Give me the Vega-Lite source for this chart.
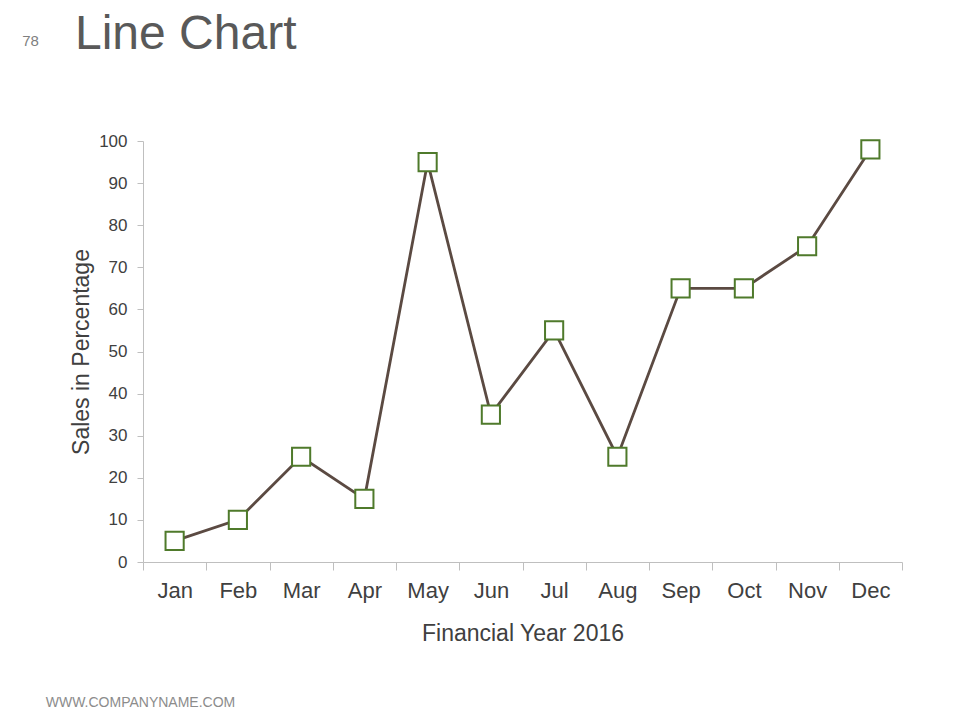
{
  "$schema": "https://vega.github.io/schema/vega-lite/v6.json",
  "width": 759,
  "height": 421,
  "autosize": {"type": "none"},
  "padding": {"left": 143, "top": 141, "right": 58, "bottom": 158},
  "background": "white",
  "title": {
    "text": "Line Chart",
    "anchor": "start",
    "frame": "group",
    "dx": -68,
    "dy": 30,
    "fontSize": 48,
    "fontWeight": "normal",
    "font": "Liberation Sans",
    "color": "#595959"
  },
  "data": {
    "values": [
      {"month": "Jan", "sales": 5},
      {"month": "Feb", "sales": 10},
      {"month": "Mar", "sales": 25},
      {"month": "Apr", "sales": 15},
      {"month": "May", "sales": 95},
      {"month": "Jun", "sales": 35},
      {"month": "Jul", "sales": 55},
      {"month": "Aug", "sales": 25},
      {"month": "Sep", "sales": 65},
      {"month": "Oct", "sales": 65},
      {"month": "Nov", "sales": 75},
      {"month": "Dec", "sales": 98}
    ]
  },
  "layer": [
    {
      "mark": {"type": "line", "color": "#5b4a42", "strokeWidth": 2.8},
      "encoding": {
        "x": {
          "field": "month",
          "type": "ordinal",
          "sort": ["Jan","Feb","Mar","Apr","May","Jun","Jul","Aug","Sep","Oct","Nov","Dec"],
          "bandPosition": 0.5,
          "scale": {"type": "band", "paddingInner": 0, "paddingOuter": 0},
          "axis": {
            "orient": "bottom",
            "title": "Financial Year 2016",
            "titleFontSize": 23,
            "titleFontWeight": "normal",
            "titleColor": "#404040",
            "titlePadding": 21,
            "labelFontSize": 22,
            "labelColor": "#404040",
            "labelPadding": 10,
            "labelAngle": 0,
            "tickBand": "extent",
            "tickSize": 8,
            "tickColor": "#bfbfbf",
            "domainColor": "#bfbfbf",
            "grid": false
          }
        },
        "y": {
          "field": "sales",
          "type": "quantitative",
          "scale": {"domain": [0, 100], "nice": false},
          "axis": {
            "orient": "left",
            "title": "Sales in Percentage",
            "titleFontSize": 23,
            "titleFontWeight": "normal",
            "titleColor": "#404040",
            "titlePadding": 5,
            "values": [0,10,20,30,40,50,60,70,80,90,100],
            "labelFontSize": 17,
            "labelColor": "#404040",
            "labelPadding": 10,
            "tickSize": 6,
            "tickColor": "#bfbfbf",
            "domainColor": "#bfbfbf",
            "grid": false
          }
        }
      }
    },
    {
      "mark": {"type": "point", "shape": "square", "size": 330, "filled": true, "fill": "white", "stroke": "#4f7a2b", "strokeWidth": 2, "opacity": 1},
      "encoding": {
        "x": {
          "field": "month",
          "type": "ordinal",
          "sort": ["Jan","Feb","Mar","Apr","May","Jun","Jul","Aug","Sep","Oct","Nov","Dec"],
          "bandPosition": 0.5,
          "axis": {
            "orient": "top",
            "labels": false,
            "ticks": false,
            "domain": false,
            "grid": false,
            "title": "78",
            "titleFontSize": 15,
            "titleFontWeight": "normal",
            "titleColor": "#7f7f7f",
            "titleAlign": "center",
            "titleBaseline": "middle",
            "titleX": -113,
            "titleY": -101
          }
        },
        "y": {
          "field": "sales",
          "type": "quantitative",
          "axis": {
            "orient": "right",
            "labels": false,
            "ticks": false,
            "domain": false,
            "grid": false,
            "title": "WWW.COMPANYNAME.COM",
            "titleAngle": 0,
            "titleFontSize": 14,
            "titleFontWeight": "normal",
            "titleColor": "#8c8c8c",
            "titleAlign": "center",
            "titleBaseline": "middle",
            "titleX": -762,
            "titleY": 561
          }
        }
      }
    }
  ],
  "resolve": {"axis": {"x": "independent", "y": "independent"}},
  "config": {
    "font": "Liberation Sans",
    "view": {"stroke": null},
    "axis": {"labelFont": "Liberation Sans", "titleFont": "Liberation Sans"}
  }
}
